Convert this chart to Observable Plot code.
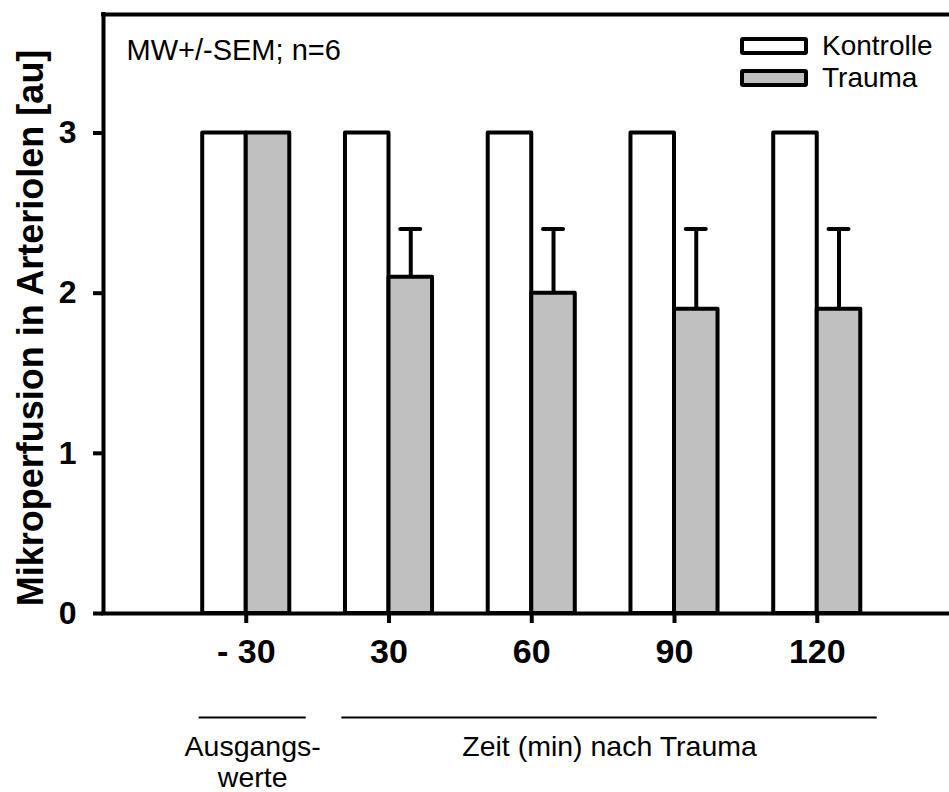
<!DOCTYPE html>
<html>
<head>
<meta charset="utf-8">
<script src="https://cdn.jsdelivr.net/npm/d3@7"></script>
<script src="https://cdn.jsdelivr.net/npm/@observablehq/plot@0.6"></script>
<style>
  html, body { margin: 0; padding: 0; background: #fff; }
  #wrap { position: relative; width: 949px; height: 792px; font-family: "Liberation Sans", Arial, sans-serif; }
  .lg-box { position: absolute; box-sizing: border-box; border: 4px solid #000; border-radius: 3px; width: 68px; height: 18px; }
  .lg-text { position: absolute; font-size: 28px; line-height: 28px; color: #000; white-space: nowrap; }
</style>
</head>
<body>
<div id="wrap"></div>
<script>
// ---- data ----
const zeitpunkte = ["- 30", "30", "60", "90", "120"];
const kontrolle = [3, 3, 3, 3, 3];
const trauma = [3, 2.1, 2.0, 1.9, 1.9];
const traumaSEM = [0, 0.3, 0.4, 0.5, 0.5];
const yTicks = [0, 1, 2, 3];
const gruppen = ["Kontrolle", "Trauma"];
const farben = ["#ffffff", "#c0c0c0"];
const anmerkungText = ["Ausgangs-\nwerte", "Zeit (min) nach Trauma"];
const anmerkungVon = ["- 30", "30"];
const anmerkungBis = ["- 30", "120"];
const yLabel = "Mikroperfusion in Arteriolen [au]";
const notiz = "MW+/-SEM; n=6";

// ---- build tables ----
const pos = k => zeitpunkte.indexOf(k) + 1;
const half = 0.305;
const bars = [];
zeitpunkte.forEach((z, i) => {
  bars.push({gruppe: "Kontrolle", x1: pos(z) - half, x2: pos(z), y: kontrolle[i]});
  bars.push({gruppe: "Trauma", x1: pos(z), x2: pos(z) + half, y: trauma[i]});
});
const errs = zeitpunkte.map((z, i) => ({x: pos(z) + half / 2, y1: trauma[i], y2: trauma[i] + traumaSEM[i]}))
  .filter(d => d.y2 > d.y1);
const anm = anmerkungText.map((t, i) => {
  const a = pos(anmerkungVon[i]) - 0.33, b = pos(anmerkungBis[i]) + 0.42;
  return {text: t, x1: a, x2: b, xm: (a + b) / 2};
});

const W = 949, H = 792, ML = 103, MT = 14, MB = 179;
const step = 142.75;
const xMax = (W - ML) / step;
const yMax = 3.74;
const font = "'Liberation Sans', Arial, sans-serif";

const chart = Plot.plot({
  width: W, height: H,
  marginLeft: ML, marginRight: 0, marginTop: MT, marginBottom: MB,
  style: {fontFamily: font, background: "#fff", color: "#000", overflow: "visible"},
  x: {domain: [0, xMax], axis: null},
  y: {domain: [0, yMax], axis: null},
  color: {domain: gruppen, range: farben},
  marks: [
    Plot.rect(bars, {x1: "x1", x2: "x2", y1: 0, y2: "y", fill: "gruppe", stroke: "#000", strokeWidth: 4, strokeLinejoin: "round"}),
    Plot.ruleX(errs, {x: "x", y1: "y1", y2: "y2", stroke: "#000", strokeWidth: 4}),
    Plot.ruleY(errs, {y: "y2", x1: d => d.x - 0.07, x2: d => d.x + 0.07, stroke: "#000", strokeWidth: 4, strokeLinecap: "round"}),
    Plot.ruleX([0], {stroke: "#000", strokeWidth: 4, strokeLinecap: "square"}),
    Plot.ruleY([0, yMax], {stroke: "#000", strokeWidth: 4, strokeLinecap: "square"}),
    Plot.axisY({ticks: yTicks, tickFormat: d3.format("d"), tickSize: 10, tickPadding: 17, strokeWidth: 4, fontSize: 32, fontWeight: "bold", label: null}),
    Plot.axisX({ticks: zeitpunkte.map(pos), tickFormat: i => zeitpunkte[i - 1], tickSize: 10, tickPadding: 15, strokeWidth: 4, fontSize: 34, fontWeight: "bold", label: null}),
    Plot.text([yLabel], {frameAnchor: "left", rotate: -90, dx: -72, dy: 14, fontSize: 36, fontWeight: "bold", textAnchor: "middle"}),
    Plot.text([notiz], {frameAnchor: "top-left", dx: 23, dy: 25, fontSize: 29, textAnchor: "start", lineAnchor: "top"}),
    Plot.ruleY(anm, {y: 0, x1: "x1", x2: "x2", dy: 104, stroke: "#000", strokeWidth: 2}),
    Plot.text(anm, {x: "xm", y: 0, text: "text", dy: 120, lineAnchor: "top", fontSize: 28.5, lineHeight: 1.1, textAnchor: "middle"})
  ]
});

const wrap = document.getElementById("wrap");
wrap.appendChild(chart);

// legend (HTML overlay)
const lgTop = [37, 69];
gruppen.forEach((g, i) => {
  const b = document.createElement("div");
  b.className = "lg-box";
  b.style.left = "740px"; b.style.top = lgTop[i] + "px"; b.style.background = farben[i];
  wrap.appendChild(b);
  const t = document.createElement("div");
  t.className = "lg-text";
  t.textContent = g;
  t.style.left = "822px"; t.style.top = (lgTop[i] - 5) + "px";
  wrap.appendChild(t);
});
</script>
</body>
</html>
